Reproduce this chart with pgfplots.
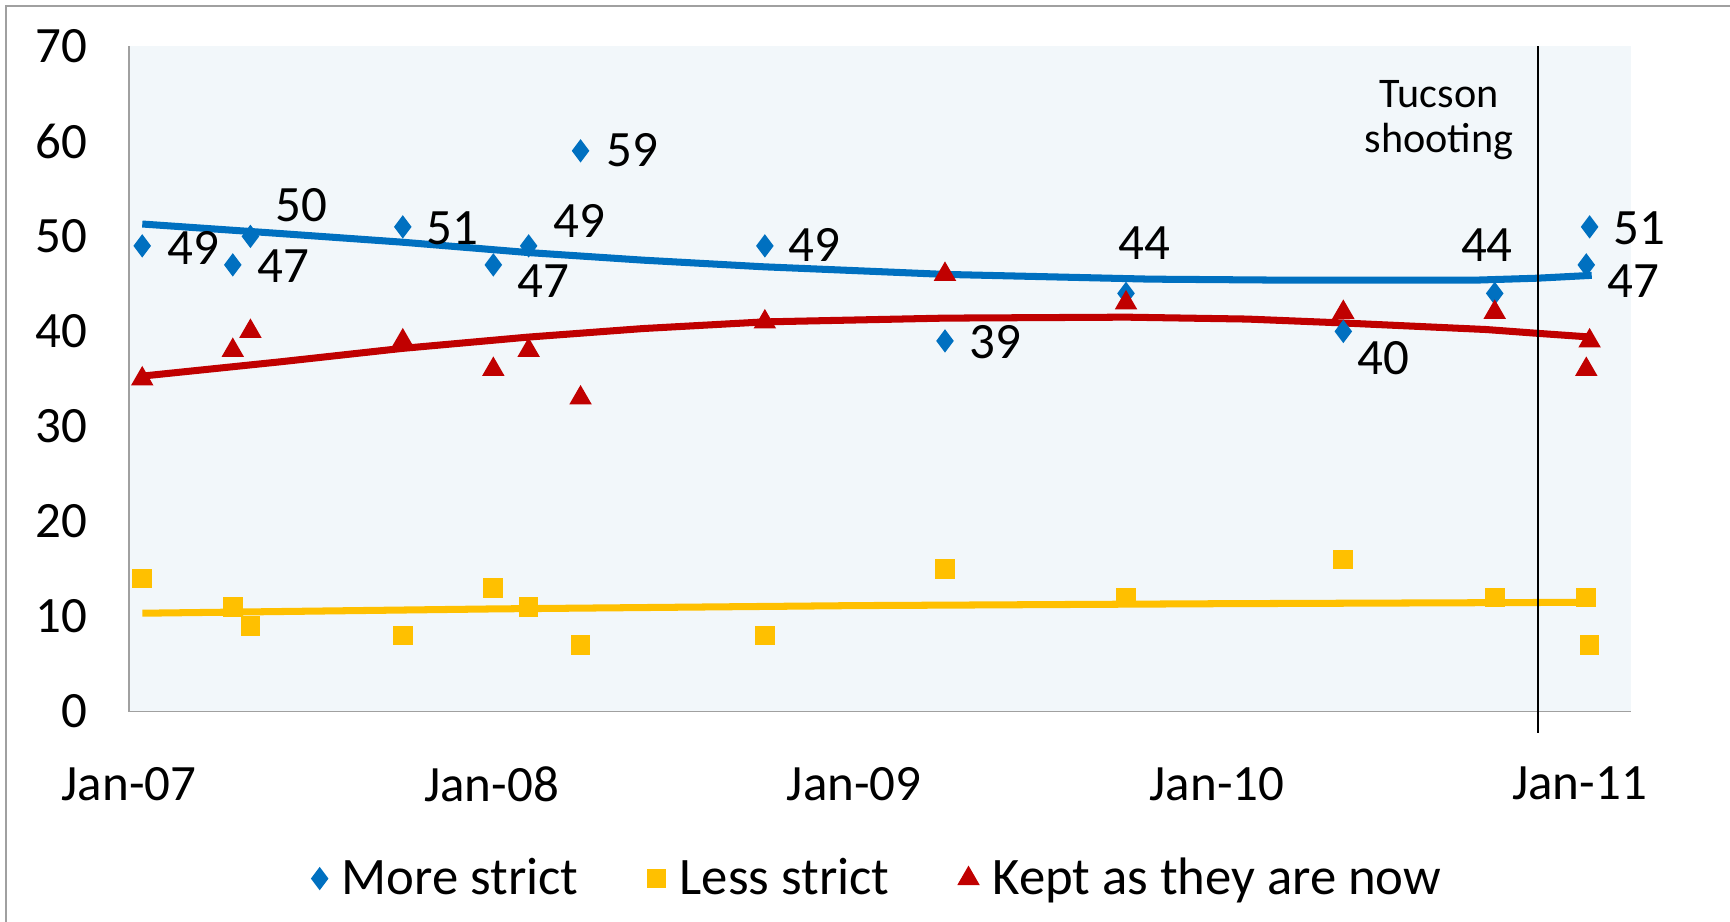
\documentclass[border=0pt]{standalone}
\usepackage{pgfplots}
\pgfplotsset{compat=1.18}
\usepackage{fontspec}
\setmainfont{Carlito}
\definecolor{cblue}{RGB}{0,112,192}
\definecolor{cyellow}{RGB}{255,192,0}
\definecolor{cred}{RGB}{192,0,0}
\definecolor{bgblue}{RGB}{242,247,250}
\definecolor{frame}{RGB}{160,160,160}
\begin{document}
\begin{tikzpicture}
\useasboundingbox (0,0) rectangle (173mm,92.2mm);
\draw[frame, line width=0.5pt] (0.6mm,0) -- (0.6mm,91.6mm) -- (173mm,91.6mm);
\begin{axis}[
 at={(12.9mm,21.04mm)}, anchor=south west,
 scale only axis, width=150.2mm, height=66.53mm,
 xmin=0, xmax=49.7, ymin=0, ymax=70,
 axis x line=bottom, axis y line=left,
 axis line style={draw=frame, -},
 axis background/.style={fill=bgblue},
 xtick={0,12,24,36,48}, xticklabels={Jan-07,Jan-08,Jan-09,Jan-10,Jan-11},
 ytick={0,10,...,70},
 major tick length=0pt,
 tick style={draw=none},
 ticklabel style={font=\fontsize{14.5}{17}\selectfont},
 /pgf/number format/assume math mode=true,
 xticklabel style={yshift=-4.3mm},
 yticklabel style={xshift=-2.9mm},
 clip=false,
 legend style={at={(0.5,-0.251)}, anchor=center, draw=none, fill=none,
   legend columns=3, font=\fontsize{15}{17}\selectfont,
   /tikz/every odd column/.append style={column sep=0.7mm},
   /tikz/every even column/.append style={column sep=6.2mm}},
 legend image code/.code={\draw[mark repeat=2,mark phase=2,#1] plot coordinates {(0cm,0cm)(0.14cm,0cm)(0.28cm,0cm)};},
]
% trend lines
\addplot[forget plot, cblue, line width=2pt, no marks] coordinates {
(0.44,51.3)(5,50.3)(9,49.4)(13.2,48.3)(17,47.5)(21,46.8)(27,46.0)(33.8,45.5)(38,45.4)(44.6,45.4)(46.6,45.6)(48.4,45.9)};
\addplot[forget plot, cred, line width=2pt, no marks] coordinates {
(0.44,35.3)(5,36.8)(9,38.2)(13.2,39.4)(17,40.3)(21,41.0)(27,41.4)(33,41.5)(37,41.3)(40.1,40.9)(44.9,40.2)(46.6,39.8)(48.4,39.4)};
\addplot[forget plot, cyellow, line width=2pt, no marks] coordinates {
(0.44,10.35)(12,10.8)(24,11.15)(36,11.35)(48.4,11.5)};
% Tucson line
\draw[black, line width=0.6pt] (axis cs:46.62,70) -- (axis cs:46.62,0) -- ++(0,-2.1mm);
\node[align=center, font=\fontsize{12}{12.8}\selectfont] at (axis cs:43.35,62.2) {Tucson\\shooting};
% scatter
\addplot[only marks, mark=diamond*, mark size=3pt, color=cblue] coordinates {
(0.438,49)(3.434,47)(4.018,50)(9.059,51)(12.055,47)(13.224,49)(14.941,59)(21.04,49)(27.0,39)(32.99,44)(40.18,40)(45.19,44)(48.22,47)(48.33,51)};
\addlegendentry{More strict}
\addplot[only marks, mark=square*, mark size=2.6pt, color=cyellow] coordinates {
(0.438,14)(3.434,11)(4.018,9)(9.059,8)(12.055,13)(13.224,11)(14.941,7)(21.04,8)(27.0,15)(32.99,12)(40.18,16)(45.19,12)(48.22,12)(48.33,7)};
\addlegendentry{Less strict}
\addplot[only marks, mark=triangle*, mark size=3.3pt, color=cred] coordinates {
(0.438,35)(3.434,38)(4.018,40)(9.059,39)(12.055,36)(13.224,38)(14.941,33)(21.04,41)(27.0,46)(32.99,43)(40.18,42)(45.19,42)(48.22,36)(48.33,39)};
\addlegendentry{Kept as they are now}
% data labels
\begin{scope}[every node/.style={font=\fontsize{14.5}{17}\selectfont, inner sep=0pt}]
\node at (axis cs:2.12,48.76) {49};
\node at (axis cs:5.11,46.9) {47};
\node at (axis cs:5.70,53.3) {50};
\node at (axis cs:10.70,50.85) {51};
\node at (axis cs:13.70,45.27) {47};
\node at (axis cs:14.90,51.67) {49};
\node at (axis cs:16.66,59.1) {59};
\node at (axis cs:22.68,49.1) {49};
\node at (axis cs:28.68,38.9) {39};
\node at (axis cs:33.61,49.3) {44};
\node at (axis cs:41.50,37.15) {40};
\node at (axis cs:44.93,49.1) {44};
\node at (axis cs:49.97,50.85) {51};
\node at (axis cs:49.79,45.27) {47};
\end{scope}
\end{axis}
\end{tikzpicture}
\end{document}
